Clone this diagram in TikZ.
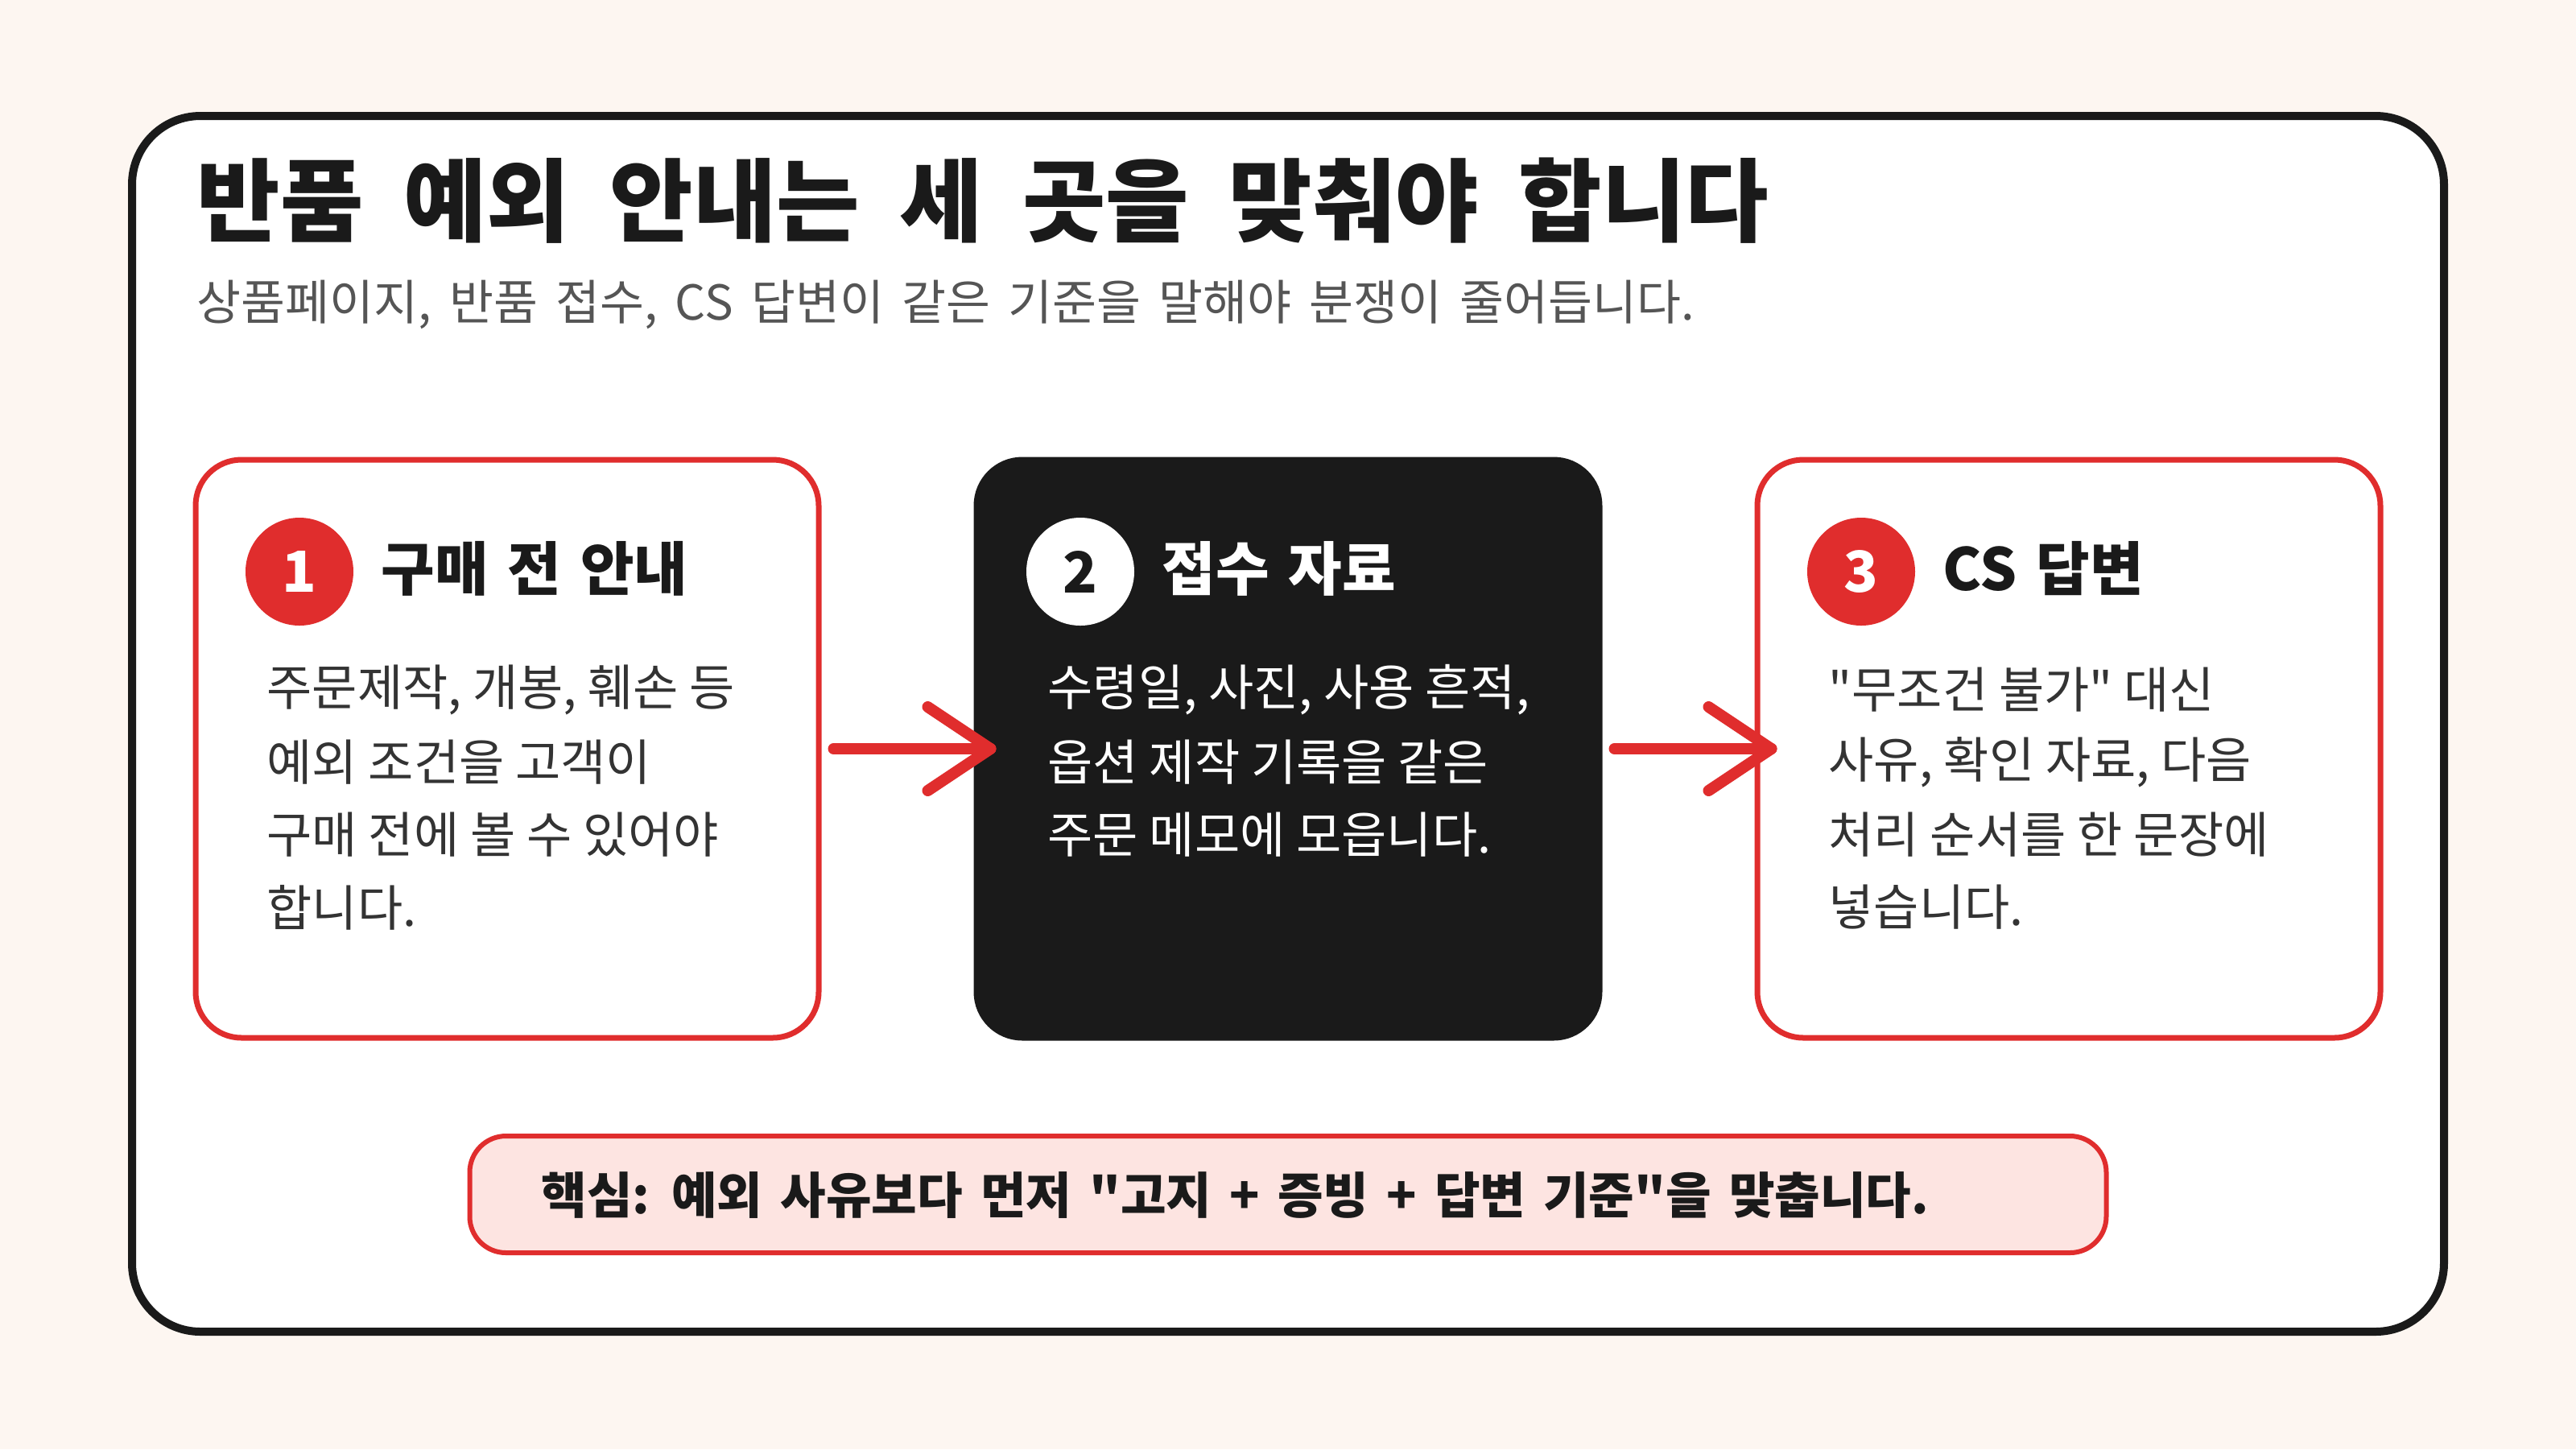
\documentclass[tikz,border=0pt]{standalone}
\usepackage{fontspec}
\setmainfont{Noto Sans CJK KR}[Ligatures=TeXOff]
\usetikzlibrary{calc}
\definecolor{bg}{HTML}{FDF6F1}
\definecolor{redc}{HTML}{E02D2D}
\definecolor{darkc}{HTML}{1A1A1A}
\definecolor{txt}{HTML}{333333}
\definecolor{subc}{HTML}{555555}
\definecolor{pinkc}{HTML}{FDE4E1}
\newcommand{\wordgap}[1]{\spaceskip #1em\relax}
\tikzset{
  card/.style={rectangle, rounded corners=0.57cm, minimum width=7.74cm, minimum height=7.18cm, line width=0.07cm, draw=redc, fill=white, inner sep=0},
  darkcard/.style={card, draw=darkc, fill=darkc},
  badge/.style={circle, minimum size=1.34cm, inner sep=0, font=\bfseries\fontsize{20}{24}\selectfont},
  head/.style={anchor=west, inner sep=0, font=\bfseries\fontsize{20.6}{24}\selectfont},
  bodytext/.style={anchor=west, inner sep=0, font=\fontsize{17.4}{21}\selectfont, text=txt},
  arrowline/.style={draw=redc, line width=0.14cm, line cap=round, line join=round},
}
\begin{document}
\begin{tikzpicture}[x=1cm,y=-1cm]
\fill[bg] (0,0) rectangle (32,18);
\useasboundingbox (0,0) rectangle (32,18);
% frame
\draw[line width=0.1cm, draw=darkc, fill=white, rounded corners=0.85cm] (1.64,1.44) rectangle (30.36,16.54);
% title
\node[anchor=west, inner sep=0, font=\bfseries\fontsize{32}{38}\selectfont, text=darkc] (title) at (2.44,2.49) {\wordgap{0.44}반품 예외 안내는 세 곳을 맞춰야 합니다};
\node[anchor=west, inner sep=0, font=\fontsize{17}{20}\selectfont, text=subc] (subtitle) at (2.44,3.78) {\wordgap{0.37}상품페이지, 반품 접수, CS 답변이 같은 기준을 말해야 분쟁이 줄어듭니다.};
% cards
\node[card] (b1) at (6.30,9.30) {};
\node[darkcard] (b2) at (16.00,9.30) {};
\node[card] (b3) at (25.70,9.30) {};
% badges
\node[badge, fill=redc, text=white] (c1) at (3.72,7.10) {1};
\node[badge, fill=white, text=darkc] (c2) at (13.42,7.10) {2};
\node[badge, fill=redc, text=white] (c3) at (23.12,7.10) {3};
% headings
\node[head, text=darkc] (h1) at (4.73,7.06) {\wordgap{0.33}구매 전 안내};
\node[head, text=white] (h2) at (14.43,7.06) {\wordgap{0.33}접수 자료};
\node[head, text=darkc] (h3) at (24.13,7.06) {\wordgap{0.33}CS 답변};
% body 1
\node[bodytext] (t11) at (3.31,8.57) {주문제작, 개봉, 훼손 등};
\node[bodytext] (t12) at (3.31,9.47) {예외 조건을 고객이};
\node[bodytext] (t13) at (3.31,10.37) {구매 전에 볼 수 있어야};
\node[bodytext] (t14) at (3.31,11.27) {합니다.};
% body 2
\node[bodytext, text=white] (t21) at (13.01,8.57) {수령일, 사진, 사용 흔적,};
\node[bodytext, text=white] (t22) at (13.01,9.47) {옵션 제작 기록을 같은};
\node[bodytext, text=white] (t23) at (13.01,10.37) {주문 메모에 모읍니다.};
% body 3
\node[bodytext] (t31) at (22.71,8.57) {"무조건 불가" 대신};
\node[bodytext] (t32) at (22.71,9.47) {사유, 확인 자료, 다음};
\node[bodytext] (t33) at (22.71,10.37) {처리 순서를 한 문장에};
\node[bodytext] (t34) at (22.71,11.27) {넣습니다.};
% arrows
\coordinate (a1s) at ($(b1.east)+(0.15,0)$);
\coordinate (a1e) at ($(b2.west)+(0.21,0)$);
\coordinate (a2s) at ($(b2.east)+(0.15,0)$);
\coordinate (a2e) at ($(b3.west)+(0.21,0)$);
\draw[arrowline] (a1s) -- (a1e);
\draw[arrowline] ($(a1e)+(-0.78,-0.52)$) -- (a1e) -- ($(a1e)+(-0.78,0.52)$);
\draw[arrowline] (a2s) -- (a2e);
\draw[arrowline] ($(a2e)+(-0.78,-0.52)$) -- (a2e) -- ($(a2e)+(-0.78,0.52)$);
% callout
\node[rectangle, rounded corners=0.45cm, minimum width=20.33cm, minimum height=1.45cm, line width=0.06cm, draw=redc, fill=pinkc, inner sep=0] (call) at (16.0,14.835) {};
\node[anchor=west, inner sep=0, font=\bfseries\fontsize{17.5}{21}\selectfont, text=darkc] (calltext) at (6.72,14.84) {\wordgap{0.36}핵심: 예외 사유보다 먼저 "고지 + 증빙 + 답변 기준"을 맞춥니다.};
\end{tikzpicture}
\end{document}
